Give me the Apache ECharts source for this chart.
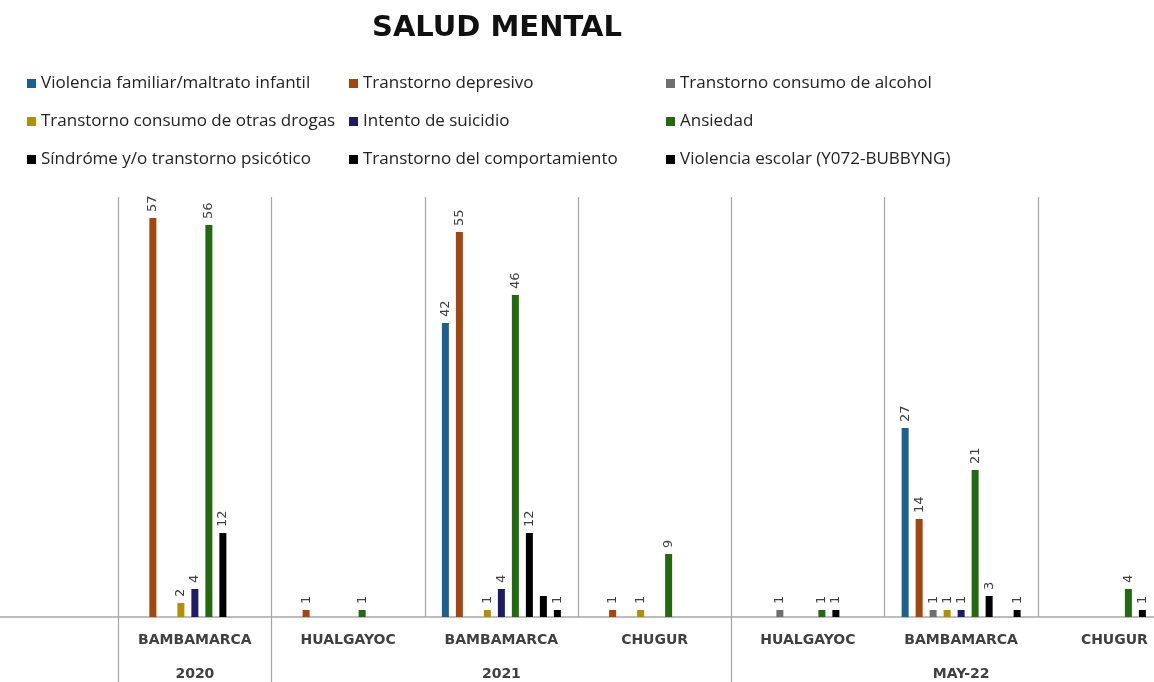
<!DOCTYPE html>
<html>
<head>
<meta charset="utf-8">
<script src="https://cdn.jsdelivr.net/npm/echarts@6/dist/echarts.min.js"></script>
<style>html,body{margin:0;padding:0;background:#fff;overflow:hidden;width:1154px;height:682px;}#chart{width:1226px;height:682px;margin-left:-35px;}</style>
</head>
<body>
<div id="chart"></div>
<script>
var categories = ['', 'BAMBAMARCA', 'HUALGAYOC', 'BAMBAMARCA', 'CHUGUR', 'HUALGAYOC', 'BAMBAMARCA', 'CHUGUR'];
var periods = ['', '2020', '', '2021', '', '', 'MAY-22', ''];
var seriesNames = [
  'Violencia familiar/maltrato infantil', 'Transtorno depresivo', 'Transtorno consumo de alcohol',
  'Transtorno consumo de otras drogas', 'Intento de suicidio', 'Ansiedad',
  'Síndróme y/o transtorno psicótico', 'Transtorno del comportamiento', 'Violencia escolar (Y072-BUBBYNG)'
];
var violencia      = [null, null, null, 42, null, null, 27, null];
var depresivo      = [null, 57, 1, 55, 1, null, 14, null];
var alcohol        = [null, null, null, null, null, 1, 1, null];
var otrasDrogas    = [null, 2, null, 1, 1, null, 1, null];
var suicidio       = [null, 4, null, 4, null, null, 1, null];
var ansiedad       = [null, 56, 1, 46, 9, 1, 21, 4];
var psicotico      = [null, 12, null, 12, null, 1, 3, 1];
var comportamiento = [null, null, null, 3, null, null, null, null];
var escolar        = [null, null, null, 1, null, null, 1, null];
var hiddenLabels = { 7: [3] }; // label not shown in reference for this bar

var values = [violencia, depresivo, alcohol, otrasDrogas, suicidio, ansiedad, psicotico, comportamiento, escolar];
var colors = ['#1d5f8e', '#a0460e', '#707070', '#b38d0c', '#1b1b66', '#23690f', '#000000', '#000000', '#000000'];

var series = values.map(function (arr, si) {
  return {
    name: seriesNames[si],
    type: 'bar',
    barWidth: 7,
    barGap: '100%',
    itemStyle: { color: colors[si] },
    label: {
      show: true, position: 'top', rotate: 90, align: 'left', verticalAlign: 'middle',
      distance: 6, color: '#404040', fontSize: 13, fontFamily: 'DejaVu Sans'
    },
    data: arr.map(function (v, ci) {
      if (hiddenLabels[si] && hiddenLabels[si].indexOf(ci) >= 0) {
        return { value: v, label: { show: false } };
      }
      return v;
    })
  };
});

var X0 = 35; // horizontal offset of the chart canvas
var legendFont = { fontFamily: 'Open Sans', fontSize: 17, color: '#222' };
function legendCol(left, names) {
  return {
    orient: 'vertical', left: left + X0, top: 70, itemWidth: 9, itemHeight: 9, itemGap: 21,
    icon: 'rect', textStyle: legendFont, data: names, selectedMode: false
  };
}

var chart = echarts.init(document.getElementById('chart'));
chart.setOption({
  animation: false,
  backgroundColor: '#ffffff',
  color: colors,
  title: {
    text: 'SALUD MENTAL', left: 367 + X0, top: 9,
    textStyle: { fontFamily: 'DejaVu Sans', fontWeight: 'bold', fontSize: 29, color: '#111' }
  },
  legend: [
    legendCol(22, [seriesNames[0], seriesNames[3], seriesNames[6]]),
    legendCol(344, [seriesNames[1], seriesNames[4], seriesNames[7]]),
    legendCol(661, [seriesNames[2], seriesNames[5], seriesNames[8]])
  ],
  grid: { left: 0, right: 0, top: 197, bottom: 65, containLabel: false },
  xAxis: [
    {
      type: 'category', data: categories, position: 'bottom',
      axisLine: { lineStyle: { color: '#a6a6a6', width: 1.5 } },
      axisTick: { show: false },
      splitLine: { show: true, lineStyle: { color: '#a6a6a6', width: 1.2 } },
      axisLabel: { margin: 16, color: '#404040', fontFamily: 'DejaVu Sans', fontWeight: 'bold', fontSize: 14, interval: 0 }
    },
    {
      type: 'category', data: periods, position: 'bottom', offset: 0,
      axisLine: { show: false },
      axisTick: {
        show: true, length: 70, lineStyle: { color: '#a6a6a6', width: 1.2 },
        interval: function (i) { return i === 1 || i === 2 || i === 5; }
      },
      axisLabel: { margin: 50, color: '#404040', fontFamily: 'DejaVu Sans', fontWeight: 'bold', fontSize: 14, interval: 0 }
    }
  ],
  yAxis: { type: 'value', min: 0, max: 60, show: false, splitLine: { show: false } },
  series: series
});
</script>
</body>
</html>
